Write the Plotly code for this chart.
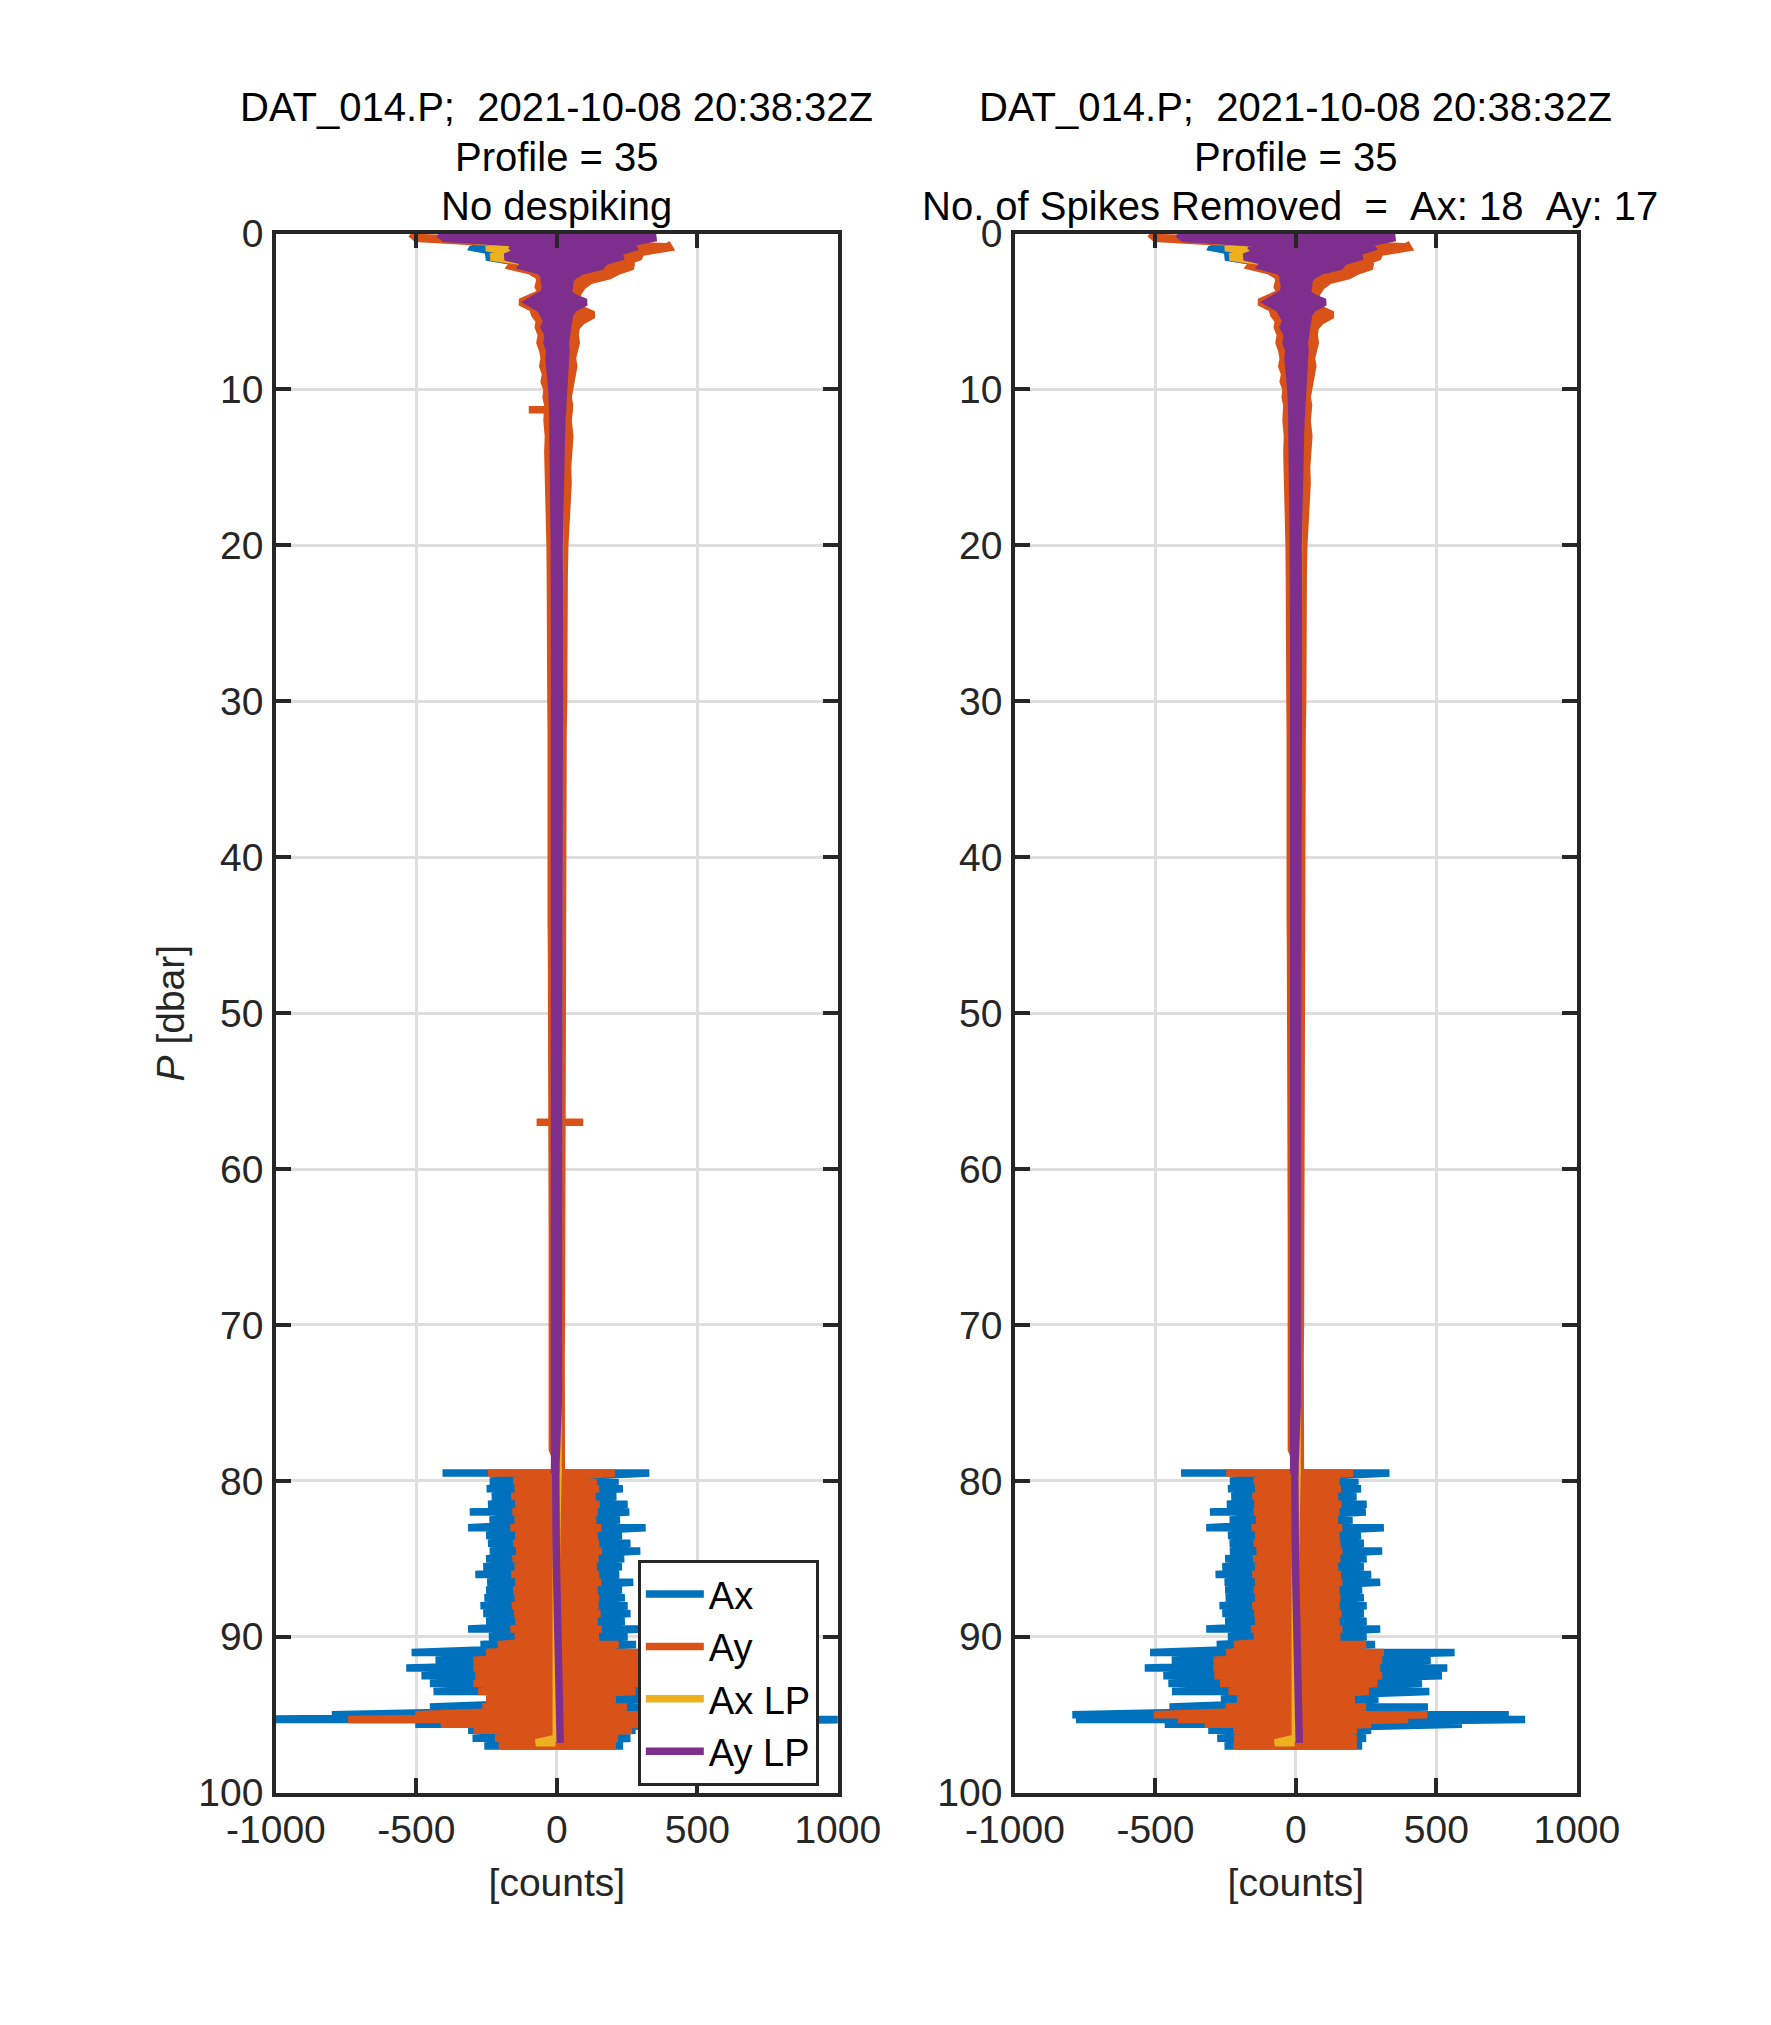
import plotly.graph_objects as go

# ---------------- data ----------------
series_names = ["Ax", "Ay", "Ax LP", "Ay LP"]
series_colors = ["#0072BD", "#D95319", "#EDB120", "#7E2F8E"]

x_tickvals = [-1000, -500, 0, 500, 1000]
x_ticktext = ["-1000", "-500", "0", "500", "1000"]
y_tickvals = [0, 10, 20, 30, 40, 50, 60, 70, 80, 90, 100]
y_ticktext = ["0", "10", "20", "30", "40", "50", "60", "70", "80", "90", "100"]

title_line1 = "DAT_014.P;\u00a0\u00a02021-10-08 20:38:32Z"
title_line2 = "Profile = 35"
title_left3 = "No despiking"
title_right3 = "No. of Spikes Removed\u00a0\u00a0=\u00a0\u00a0Ax: 18\u00a0\u00a0Ay: 17"

# upper part of the profile (0 - 79.3 dbar): extremes at each pressure level
p_top = [0.0, 0.3, 0.6, 0.9, 1.2, 1.5, 1.8, 2.1, 2.4, 2.7, 3.0,
         3.4, 3.8, 4.1, 4.4, 4.8, 5.2, 5.6, 6.0,
         6.5, 7.0, 7.5, 8.0, 8.5, 9.0, 9.5, 10.0, 10.5,
         11.0, 12.0, 13.0, 14.0, 15.0,
         16, 18, 20, 22, 24, 26, 28, 30, 32, 34, 36, 38, 40, 42, 44, 46,
         48, 50, 52, 54, 56, 58, 60, 62, 64, 66, 68, 70, 72, 74, 76, 78, 79.3]

ax_top_lo = [-400, -350, -290, -299, -210, -251, -150, -140, -80, -60, -50,
             -50, -45, -60, -90, -60, -55, -50, -48,
             -45, -42, -40, -38, -35, -32, -30, -30, -28,
             -26, -25, -24, -22, -20,
             -14, -14, -13, -14, -13, -12, -13, -12, -13, -12, -12, -11, -12, -11,
             -12, -11, -11, -10, -11, -10, -11, -10, -10, -11, -10, -10, -9, -10, -9, -10, -9, -10]
ax_top_hi = [300, 320, 260, 285, 215, 235, 190, 160, 100, 70, 60,
             55, 50, 60, 95, 65, 55, 50, 50,
             45, 45, 42, 40, 38, 35, 32, 30, 30,
             28, 26, 25, 24, 22,
             14, 14, 13, 14, 13, 12, 13, 12, 13, 12, 12, 11, 12, 11,
             12, 11, 11, 10, 11, 10, 11, 10, 10, 11, 10, 10, 9, 10, 9, 10, 9, 10]

ay_top_lo = [-520, -500, -210, -240, -190, -235, -150, -163, -95, -66, -60,
             -66, -55, -90, -130, -85, -79, -62, -66,
             -55, -60, -50, -45, -50, -40, -45, -35, -38,
             -32, -35, -30, -32, -30,
             -27, -25, -24, -23, -24, -22, -23, -21, -20, -21, -20, -19, -20, -19,
             -20, -19, -18, -17, -18, -17, -16, -17, -16, -17, -16, -16, -15, -16, -15, -16, -15, -16]
ay_top_hi = [390, 400, 300, 292, 250, 270, 220, 187, 120, 90, 75,
             70, 65, 80, 130, 90, 69, 65, 69,
             60, 55, 60, 56, 50, 45, 40, 45, 40,
             46, 40, 38, 40, 36,
             28, 26, 24, 25, 23, 24, 22, 22, 21, 20, 21, 20, 20, 19,
             19, 20, 18, 18, 17, 18, 17, 17, 16, 17, 16, 16, 15, 16, 15, 15, 16, 16]

# isolated Ay spikes present only before despiking (left panel)
ay_spike_p = [11.3, 57.0]
ay_spike_lo = [-100, -72]
ay_spike_hi = [56, 94]

# lower, noisy part of the profile (79.5 - 97 dbar)
p_bot = [79.5, 80.0, 80.5, 81.0, 81.5, 82.0, 82.5, 83.0, 83.5, 84.0, 84.5,
         85.0, 85.5, 86.0, 86.5, 87.0, 87.5, 88.0, 88.5, 89.0, 89.5, 90.0,
         90.5, 91.0, 91.5, 92.0, 92.5, 93.0, 93.5, 94.0, 94.5,
         95.0, 95.3, 95.6, 96.0, 96.5, 97.0]

ax_bot_left_lo = [-407, -239, -250, -232, -245, -310, -240, -316, -252, -245, -239,
                  -252, -262, -290, -248, -252, -258, -272, -262, -252, -316, -242,
                  -272, -517, -432, -536, -482, -452, -439, -233, -452,
                  -801, -1200, -504, -316, -300, -258]
ax_bot_left_hi = [329, 220, 235, 212, 252, 258, 225, 316, 232, 262, 297,
                  240, 232, 222, 272, 232, 242, 252, 262, 242, 302, 252,
                  282, 560, 480, 540, 500, 450, 475, 290, 470,
                  760, 1150, 560, 280, 262, 236]
ax_bot_right_lo = [-409, -235, -242, -230, -246, -306, -236, -319, -242, -236, -235,
                   -252, -262, -286, -254, -252, -250, -272, -262, -252, -319, -242,
                   -282, -519, -442, -538, -472, -454, -441, -267, -450,
                   -796, -783, -467, -312, -280, -254]
ax_bot_right_hi = [333, 223, 232, 216, 252, 249, 202, 313, 232, 242, 307,
                   252, 242, 268, 300, 236, 242, 252, 242, 252, 300, 252,
                   282, 565, 480, 539, 520, 449, 475, 294, 470,
                   758, 816, 591, 268, 250, 236]

ay_bot_left_lo = [-245, -155, -150, -162, -148, -158, -150, -165, -148, -155, -145,
                  -158, -150, -162, -148, -155, -150, -160, -152, -148, -165, -150,
                  -210, -252, -297, -297, -290, -297, -280, -252, -265,
                  -504, -743, -413, -297, -220, -207]
ay_bot_left_hi = [207, 142, 150, 138, 152, 145, 140, 158, 145, 150, 160,
                  148, 142, 150, 158, 145, 150, 148, 155, 145, 160, 150,
                  220, 300, 300, 307, 300, 290, 280, 210, 250,
                  470, 470, 300, 268, 217, 210]
ay_bot_right_lo = [-248, -150, -145, -155, -148, -150, -142, -158, -145, -150, -140,
                   -152, -145, -155, -145, -150, -145, -155, -148, -145, -160, -150,
                   -220, -248, -293, -293, -290, -270, -240, -209, -250,
                   -506, -420, -325, -222, -220, -222]
ay_bot_right_hi = [204, 155, 160, 150, 162, 155, 150, 165, 155, 158, 165,
                   158, 150, 160, 165, 155, 158, 155, 162, 155, 165, 158,
                   250, 313, 307, 300, 307, 290, 260, 210, 250,
                   468, 400, 268, 217, 217, 217]

# low-passed signals, upper part
p_lp_top = [0.0, 0.3, 0.6, 0.9, 1.2, 1.5, 1.8, 2.1, 2.4, 2.7, 3.0, 3.4, 3.8, 4.1, 4.4,
            4.8, 5.2, 5.6, 6.0, 6.5, 7.0, 7.5, 8.0, 9.0, 10.0, 11.0, 12.0, 13.0, 14.0,
            15.0, 20, 25, 30, 35, 40, 45, 50, 55, 60, 65, 70, 75, 79.3]
axlp_top_lo = [-380, -370, -200, -251, -160, -235, -120, -110, -55, -40, -40, -35, -40, -60, -90,
               -55, -40, -32, -40, -28, -30, -22, -25, -18, -16, -14, -12, -10, -8,
               -7, -6, -6, -5, -6, -5, -5, -4, -5, -4, -4, -4, -4, -4]
axlp_top_hi = [320, 330, 240, 255, 200, 215, 160, 145, 80, 55, 42, 40, 38, 55, 95,
               55, 42, 36, 38, 30, 28, 28, 27, 22, 20, 20, 16, 14, 10,
               7, 6, 6, 5, 6, 5, 5, 4, 5, 4, 4, 4, 4, 4]
aylp_top_lo = [-420, -400, -150, -157, -140, -184, -110, -123, -60, -45, -45, -40, -45, -70, -100,
               -60, -45, -35, -45, -30, -35, -25, -28, -20, -18, -15, -15, -12, -10,
               -9, -9, -8, -8, -9, -7, -7, -6, -7, -6, -6, -6, -6, -8]
aylp_top_hi = [340, 342, 260, 271, 220, 225, 170, 157, 90, 60, 46, 45, 40, 60, 103,
               60, 45, 40, 42, 35, 30, 32, 30, 25, 22, 22, 18, 16, 12,
               9, 8, 9, 8, 8, 8, 7, 7, 6, 7, 6, 6, 5, -4]

# low-passed signals, lower part
p_lp_bot = [79.3, 85, 90, 96.5, 96.8]
axlp_bot_lo = [-4, -2, -2, -2, -75]
axlp_bot_hi = [4, -2, -2, -2, -5]
aylp_bot_lo = [-8, -2, 4, 10, 12]
aylp_bot_hi = [-4, -2, 4, 10, 12]


# ---------------- helpers ----------------
def band_outline(p, lo, hi):
    """Closed outline of the read envelope (down the low side, back up the high side)."""
    return list(lo) + list(hi)[::-1], list(p) + list(p)[::-1]


def streaks(p, lo, hi):
    """Path swinging between the read extremes at each pressure level."""
    xs, ys = [], []
    for pi, a, b in zip(p, lo, hi):
        if a == b:
            xs.append(a)
            ys.append(pi)
        else:
            xs += [a, b]
            ys += [pi, pi]
    return xs, ys


def spike_segments(p, lo, hi):
    xs, ys = [], []
    for pi, a, b in zip(p, lo, hi):
        xs += [a, b, None]
        ys += [pi, pi, None]
    return xs, ys


FONT = "Liberation Sans, Arial, Helvetica, sans-serif"
AX_COL = "#262626"
W, H = 1771, 2025
FS = 39
LW = 7.5

fig = go.Figure()

for xa, ya, is_left in [("x", "y", True), ("x2", "y2", False)]:
    if is_left:
        ax_lo_b, ax_hi_b = ax_bot_left_lo, ax_bot_left_hi
        ay_lo_b, ay_hi_b = ay_bot_left_lo, ay_bot_left_hi
    else:
        ax_lo_b, ax_hi_b = ax_bot_right_lo, ax_bot_right_hi
        ay_lo_b, ay_hi_b = ay_bot_right_lo, ay_bot_right_hi

    upper = [
        band_outline(p_top, ax_top_lo, ax_top_hi),
        band_outline(p_top, ay_top_lo, ay_top_hi),
        band_outline(p_lp_top, axlp_top_lo, axlp_top_hi),
        band_outline(p_lp_top, aylp_top_lo, aylp_top_hi),
    ]
    ay_low_x, ay_low_y = streaks(p_bot, ay_lo_b, ay_hi_b)
    if is_left:
        sx, sy = spike_segments(ay_spike_p, ay_spike_lo, ay_spike_hi)
        ay_low_x, ay_low_y = sx + ay_low_x, sy + ay_low_y
    lower = [
        streaks(p_bot, ax_lo_b, ax_hi_b),
        (ay_low_x, ay_low_y),
        streaks(p_lp_bot, axlp_bot_lo, axlp_bot_hi),
        streaks(p_lp_bot, aylp_bot_lo, aylp_bot_hi),
    ]
    for (ux, uy), (lx, ly), name, col in zip(upper, lower, series_names, series_colors):
        fig.add_trace(go.Scatter(
            x=ux, y=uy, mode="lines", name=name, legendgroup=name,
            fill="toself", fillcolor=col,
            line=dict(color=col, width=LW),
            xaxis=xa, yaxis=ya, showlegend=False,
        ))
        fig.add_trace(go.Scatter(
            x=lx, y=ly, mode="lines", name=name, legendgroup=name,
            line=dict(color=col, width=LW),
            xaxis=xa, yaxis=ya, showlegend=is_left,
        ))

axis_common = dict(
    showline=True, linecolor=AX_COL, linewidth=3.5, mirror="ticks",
    ticks="inside", ticklen=15, tickwidth=3.5, tickcolor=AX_COL,
    showgrid=True, gridcolor="#dedede", gridwidth=2.5, zeroline=False,
    tickfont=dict(family=FONT, size=FS, color=AX_COL),
)
title_font = dict(family=FONT, size=FS, color=AX_COL)

x_dom_left = [230 / W, 823 / W]
x_dom_right = [1010 / W, 1603 / W]
y_dom = [1 - 1802 / H, 1 - 209 / H]

fig.update_layout(
    width=W, height=H,
    margin=dict(l=0, r=0, t=0, b=0),
    paper_bgcolor="white", plot_bgcolor="white",
    font=dict(family=FONT, size=FS, color=AX_COL),
    xaxis=dict(domain=x_dom_left, range=[-1000, 1000], tickvals=x_tickvals, ticktext=x_ticktext,
               title=dict(text="[counts]", font=title_font, standoff=19),
               anchor="y", **axis_common),
    yaxis=dict(domain=y_dom, range=[100, 0], tickvals=y_tickvals, ticktext=y_ticktext,
               title=dict(text="<i>P</i> [dbar]", font=title_font, standoff=3),
               anchor="x", ticklabelstandoff=1, **axis_common),
    xaxis2=dict(domain=x_dom_right, range=[-1000, 1000], tickvals=x_tickvals, ticktext=x_ticktext,
                title=dict(text="[counts]", font=title_font, standoff=19),
                anchor="y2", **axis_common),
    yaxis2=dict(domain=y_dom, range=[100, 0], tickvals=y_tickvals, ticktext=y_ticktext,
                anchor="x2", ticklabelstandoff=1, **axis_common),
    legend=dict(
        x=803 / W, xanchor="right", y=1 - 1564 / H, yanchor="top",
        bgcolor="white", bordercolor=AX_COL, borderwidth=3,
        font=dict(family=FONT, size=38, color="black"),
        tracegroupgap=0, itemwidth=58,
    ),
    showlegend=True,
)

left_c = (230 + 823) / 2
right_c = (1010 + 1603) / 2
title_rows = [(80, title_line1, title_line1, 0), (130.5, title_line2, title_line2, 0),
              (181, title_left3, title_right3, -6)]
for ypx, tl, tr, shift in title_rows:
    for xc, txt in [(left_c / W, tl), ((right_c + shift) / W, tr)]:
        fig.add_annotation(x=xc, y=1 - ypx / H, xref="paper", yref="paper",
                           text=txt, showarrow=False, xanchor="center", yanchor="middle",
                           font=dict(family=FONT, size=40, color="black"))

fig.write_html("out.html")
